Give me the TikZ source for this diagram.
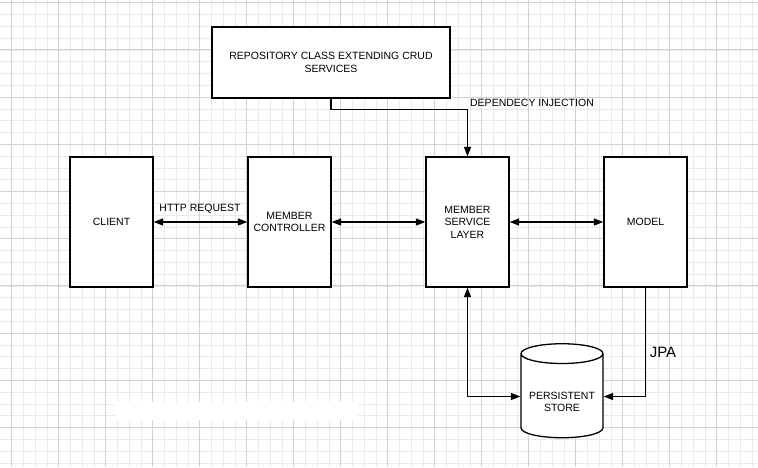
\documentclass[tikz,border=0pt]{standalone}
\usepackage{fontspec}
\setmainfont{Liberation Sans}
\usetikzlibrary{arrows.meta,shapes.geometric}
\definecolor{gridminor}{HTML}{EAEAEA}
\definecolor{gridmajor}{HTML}{D2D2D2}
\tikzset{
  block/.style={draw, line width=1.3pt, fill=white, minimum width=83pt,
    minimum height=130pt, inner sep=0pt, align=center,
    font=\fontsize{10.5}{12.5}\selectfont},
  tip/.tip={Triangle[length=9.5pt,width=7pt]},
  twoway/.style={line width=1.3pt, tip-tip},
  oneway/.style={line width=1.3pt, -tip},
  linklabel/.style={font=\fontsize{10.5}{12.5}\selectfont, inner sep=0pt},
}
\begin{document}
\begin{tikzpicture}[x=1pt, y=-1pt]
                    \useasboundingbox (0,0) rectangle (758,467);
                    % Drawing the grid
                    \fill [white] (0,0) rectangle (758,467);%
                    \foreach \i in {0,...,63} {
                      \draw [gridminor, line width=0.8pt] (11.7+\i*11.75,0) -- (11.7+\i*11.75,467);%
                    }
                    \foreach \i in {0,...,39} {
                      \draw [gridminor, line width=0.8pt] (0,2.7+\i*11.8) -- (758,2.7+\i*11.8);%
                    }
                    \foreach \i in {0,...,16} {
                      \draw [gridmajor, line width=0.9pt] (11.7+\i*47,0) -- (11.7+\i*47,467);%
                    }
                    \foreach \i in {0,...,9} {
                      \draw [gridmajor, line width=0.9pt] (0,2.7+\i*47.2) -- (758,2.7+\i*47.2);%
                    }
                    \fill [white] (115,402) rectangle (358,420);%

                    % Marking the boxes
                    \node [block, minimum width=238pt, minimum height=71pt] (repo) at (331,62.5)
                      {REPOSITORY CLASS EXTENDING CRUD\\SERVICES};%
                    \node [block] (client) at (111.5,222) {CLIENT};%
                    \node [block] (controller) at (289.5,222) {MEMBER\\CONTROLLER};%
                    \node [block] (service) at (467.5,222) {MEMBER\\SERVICE\\LAYER};%
                    \node [block] (model) at (645.5,222) {MODEL};%
                    \node [block, cylinder, shape border rotate=90, aspect=0.3,
                      minimum width=82pt, minimum height=94pt] (store) at (562,396)
                      {\raisebox{-9.8pt}[0pt][0pt]{\begin{tabular}{@{}c@{}}PERSISTENT\\STORE\end{tabular}}};%

                    % Drawing the connectors
                    \draw [twoway] (client.east) -- (controller.west);%
                    \draw [twoway] (controller.east) -- (service.west);%
                    \draw [twoway] (service.east) -- (model.west);%
                    \draw [oneway] (repo.south) -- ++(0,11) -| (service.north);%
                    \draw [twoway] (service.south) |- ([yshift=-0.5pt]store.west);%
                    \draw [oneway] (model.south) |- ([yshift=-0.5pt]store.east);%

                    % Marking the labels
                    \node [linklabel] (http) at (200,209) {HTTP REQUEST};%
                    \node [linklabel] (inject) at (532,103) {DEPENDECY INJECTION};%
                    \node [linklabel, font=\fontsize{15}{17}\selectfont] (jpa) at (663,352) {JPA};%
\end{tikzpicture}
\end{document}
